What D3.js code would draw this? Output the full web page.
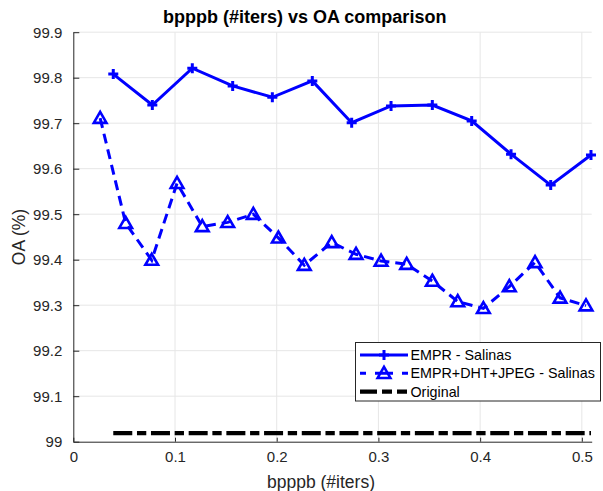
<!DOCTYPE html>
<html>
<head>
<meta charset="utf-8">
<script src="https://cdn.jsdelivr.net/npm/d3@7"></script>
<style>
  html, body { margin: 0; padding: 0; background: #fff; }
  svg text { font-family: "Liberation Sans", Arial, Helvetica, sans-serif; }
</style>
</head>
<body>
<svg id="chart" width="603" height="491"></svg>
<script>
// Bit rate (bpppb) per iteration and overall accuracy, Salinas scene
const emprBpp = [0.0393, 0.0777, 0.117, 0.1567, 0.1957, 0.235, 0.2737, 0.3124, 0.353, 0.3917, 0.4304, 0.4694, 0.509];
const emprOA  = [99.808, 99.740, 99.821, 99.782, 99.757, 99.793, 99.701, 99.738, 99.740, 99.705, 99.632, 99.564, 99.630];

const dhtBpp = [0.0264, 0.0515, 0.0771, 0.102, 0.1268, 0.1518, 0.177, 0.2016, 0.2271, 0.2541,
                0.278, 0.3026, 0.3278, 0.353, 0.378, 0.4032, 0.4287, 0.454, 0.4786, 0.5041];
const dhtOA  = [99.711, 99.480, 99.399, 99.568, 99.473, 99.482, 99.500, 99.448, 99.388, 99.438,
                99.412, 99.397, 99.390, 99.353, 99.308, 99.293, 99.341, 99.394, 99.316, 99.299];

const originalBpp = [0.0393, 0.509];
const originalOA  = [99.019, 99.019];

const xTicks = [0, 0.1, 0.2, 0.3, 0.4, 0.5];
const yTicks = [99, 99.1, 99.2, 99.3, 99.4, 99.5, 99.6, 99.7, 99.8, 99.9];

const legendLabels = ["EMPR - Salinas", "EMPR+DHT+JPEG - Salinas", "Original"];

const blue = "#0000ff";
const axisColor = "#262626";

const svg = d3.select("#chart");
const plotLeft = 73.3, plotRight = 591.7, plotTop = 32.2, plotBottom = 441.7;

const x = d3.scaleLinear().domain([0, 0.5097]).range([plotLeft, plotRight]);
const y = d3.scaleLinear().domain([99, 99.9]).range([plotBottom, plotTop]);

// grid
const grid = svg.append("g");
grid.selectAll("line.gx").data(xTicks.filter(d => d > 0)).join("line")
  .attr("x1", d => x(d)).attr("x2", d => x(d))
  .attr("y1", plotTop).attr("y2", plotBottom)
  .attr("stroke", "#e6e6e6").attr("stroke-width", 1);
grid.selectAll("line.gy").data(yTicks.filter(d => d > 99)).join("line")
  .attr("x1", plotLeft).attr("x2", plotRight)
  .attr("y1", d => y(d)).attr("y2", d => y(d))
  .attr("stroke", "#e6e6e6").attr("stroke-width", 1);

// axes
const xAxis = d3.axisBottom(x).tickValues(xTicks).tickSizeInner(-4).tickSizeOuter(0)
  .tickPadding(10).tickFormat(d3.format("~g"));
const gx = svg.append("g").attr("transform", `translate(0,${plotBottom})`).call(xAxis);
gx.select(".domain").attr("stroke", axisColor);
gx.selectAll(".tick line").attr("stroke", axisColor);
gx.selectAll(".tick text").attr("fill", axisColor).attr("font-size", 15);

const yAxis = d3.axisLeft(y).tickValues(yTicks).tickSizeInner(-6).tickSizeOuter(0)
  .tickPadding(11).tickFormat(d => d === 99 ? "99" : d3.format(".1f")(d));
const gy = svg.append("g").attr("transform", `translate(${plotLeft},0)`).call(yAxis);
gy.select(".domain").attr("stroke", axisColor);
gy.selectAll(".tick line").attr("stroke", axisColor);
gy.selectAll(".tick text").attr("fill", axisColor).attr("font-size", 15);

// labels
svg.append("text").attr("x", 304.7).attr("y", 23).attr("text-anchor", "middle")
  .attr("font-weight", "bold").attr("font-size", 18).attr("fill", "#000")
  .text("bpppb (#iters) vs OA comparison");
svg.append("text").attr("x", 321).attr("y", 487.5).attr("text-anchor", "middle")
  .attr("font-size", 17.5).attr("fill", axisColor).text("bpppb (#iters)");
svg.append("text").attr("transform", "translate(24.5,237) rotate(-90)")
  .attr("text-anchor", "middle").attr("font-size", 17.5).attr("fill", axisColor).text("OA (%)");

const line = d3.line().x(d => x(d[0])).y(d => y(d[1]));

// original reference line
const origPts = originalBpp.map((b, i) => [b, originalOA[i]]);
svg.append("path").datum(origPts).attr("d", line)
  .attr("fill", "none").attr("stroke", "#000").attr("stroke-width", 4.3)
  .attr("stroke-dasharray", "19,4.7,9.3,4.7");

// EMPR+DHT+JPEG
const dhtPts = dhtBpp.map((b, i) => [b, dhtOA[i]]);
svg.append("path").datum(dhtPts).attr("d", line)
  .attr("fill", "none").attr("stroke", blue).attr("stroke-width", 3)
  .attr("stroke-dasharray", "10,6");
const tri = d3.symbol().type(d3.symbolTriangle).size(70);
svg.append("g").selectAll("path").data(dhtPts).join("path")
  .attr("d", tri)
  .attr("transform", d => `translate(${x(d[0])},${y(d[1]) + 1})`)
  .attr("fill", "none").attr("stroke", blue).attr("stroke-width", 2.6)
  .attr("stroke-linejoin", "miter");

// EMPR
const emprPts = emprBpp.map((b, i) => [b, emprOA[i]]);
svg.append("path").datum(emprPts).attr("d", line)
  .attr("fill", "none").attr("stroke", blue).attr("stroke-width", 3);
const plus = svg.append("g");
plus.selectAll("path").data(emprPts).join("path")
  .attr("d", d => { const cx = x(d[0]), cy = y(d[1]), r = 5;
    return `M${cx - r},${cy}H${cx + r}M${cx},${cy - r}V${cy + r}`; })
  .attr("stroke", blue).attr("stroke-width", 3);

// legend
const lg = svg.append("g");
lg.append("rect").attr("x", 355.5).attr("y", 342.5).attr("width", 245).attr("height", 58.5)
  .attr("fill", "#fff").attr("stroke", axisColor).attr("stroke-width", 1);
const rows = [355, 373.3, 391.7];
const lx1 = 360, lx2 = 408;
// row 1
lg.append("line").attr("x1", lx1).attr("x2", lx2).attr("y1", rows[0]).attr("y2", rows[0])
  .attr("stroke", blue).attr("stroke-width", 3);
lg.append("path").attr("d", `M${(lx1 + lx2) / 2 - 5},${rows[0]}h10M${(lx1 + lx2) / 2},${rows[0] - 5}v10`)
  .attr("stroke", blue).attr("stroke-width", 3);
// row 2
lg.append("line").attr("x1", lx1).attr("x2", lx2).attr("y1", rows[1]).attr("y2", rows[1])
  .attr("stroke", blue).attr("stroke-width", 3).attr("stroke-dasharray", "6,9,18,9,6");
lg.append("path").attr("d", tri)
  .attr("transform", `translate(${(lx1 + lx2) / 2},${rows[1] + 1})`)
  .attr("fill", "none").attr("stroke", blue).attr("stroke-width", 2.6);
// row 3
lg.append("line").attr("x1", lx1).attr("x2", lx2).attr("y1", rows[2]).attr("y2", rows[2])
  .attr("stroke", "#000").attr("stroke-width", 4.3).attr("stroke-dasharray", "17,5,10,5,10");

lg.selectAll("text").data(legendLabels).join("text")
  .attr("x", 410.5).attr("y", (d, i) => rows[i] + 5)
  .attr("font-size", 14.3).attr("fill", "#000").text(d => d);
</script>
</body>
</html>
